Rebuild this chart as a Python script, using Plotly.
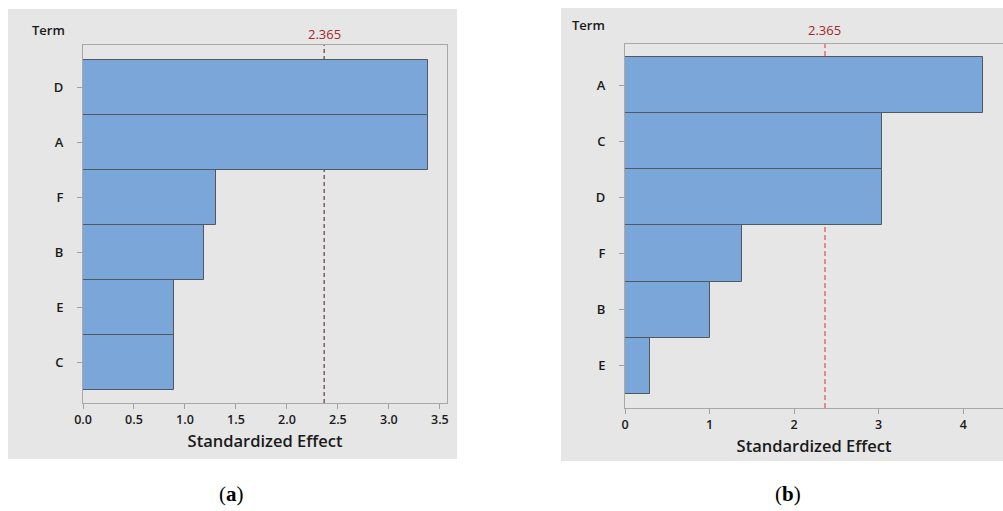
import plotly.graph_objects as go

# Pareto chart of standardized effects, two designs side by side
terms_a = ["C", "E", "B", "F", "A", "D"]
effects_a = [0.89, 0.89, 1.19, 1.30, 3.38, 3.38]

terms_b = ["E", "B", "F", "D", "C", "A"]
effects_b = [0.30, 1.00, 1.38, 3.04, 3.04, 4.23]

critical_value = 2.365
x_ticks_a = [0.0, 0.5, 1.0, 1.5, 2.0, 2.5, 3.0, 3.5]
x_ticks_b = [0, 1, 2, 3, 4]

W, H = 1003, 511
FONT = "Open Sans"
BAR_FILL = "#7BA6D9"
BAR_EDGE = "#505860"
PANEL_BG = "#e6e6e6"
TEXT = "#1a1a1a"


def px_x(p):
    return p / W


def px_y(p):
    return 1 - p / H


fig = go.Figure()

fig.add_trace(go.Bar(
    x=effects_a, y=terms_a, orientation="h", width=1.0,
    marker=dict(color=BAR_FILL, line=dict(color=BAR_EDGE, width=1)),
    xaxis="x", yaxis="y", showlegend=False, hoverinfo="x+y",
))
fig.add_trace(go.Bar(
    x=effects_b, y=terms_b, orientation="h", width=1.0,
    marker=dict(color=BAR_FILL, line=dict(color=BAR_EDGE, width=1)),
    xaxis="x2", yaxis="y2", showlegend=False, hoverinfo="x+y",
))

xaxis_common = dict(
    showgrid=False, zeroline=False, showline=True, linecolor="#a8a8a8",
    linewidth=1, mirror=True, ticks="outside", ticklen=5, tickcolor="#a0a0a0",
    tickfont=dict(family=FONT, size=12.5, color=TEXT, weight=600),
    title_font=dict(family=FONT, size=16.5, color=TEXT, weight=600),
    title_standoff=8, fixedrange=True, automargin=False,
)
yaxis_common = dict(
    showgrid=False, zeroline=False, showline=True, linecolor="#a8a8a8",
    linewidth=1, mirror=True, ticks="outside", ticklen=5, tickcolor="#a0a0a0",
    tickfont=dict(family=FONT, size=13, color=TEXT, weight=600),
    ticklabelstandoff=11, type="category", fixedrange=True, automargin=False,
)

fig.update_layout(
    template="none",
    width=W, height=H,
    margin=dict(l=0, r=0, t=0, b=0, pad=0, autoexpand=False),
    paper_bgcolor="white", plot_bgcolor="white",
    bargap=0,
    xaxis=dict(xaxis_common, domain=[px_x(83), px_x(447)], range=[0, 3.57],
               tickvals=x_ticks_a, ticktext=[f"{v:.1f}" for v in x_ticks_a],
               title_text="Standardized Effect", anchor="y"),
    yaxis=dict(yaxis_common, domain=[px_y(403), px_y(45)],
               categoryorder="array", categoryarray=terms_a,
               range=[-0.745, 5.764], anchor="x"),
    xaxis2=dict(xaxis_common, domain=[px_x(625), 1.0], range=[0, 4.47],
                tickvals=x_ticks_b, ticktext=[str(v) for v in x_ticks_b],
                title_text="Standardized Effect", anchor="y2"),
    yaxis2=dict(yaxis_common, domain=[px_y(408), px_y(44)],
                categoryorder="array", categoryarray=terms_b,
                range=[-0.75, 5.73], anchor="x2"),
)

shapes = [
    # grey panel backgrounds
    dict(type="rect", xref="paper", yref="paper", x0=px_x(8), x1=px_x(457),
         y0=px_y(459), y1=px_y(9), fillcolor=PANEL_BG, line=dict(width=0),
         layer="below"),
    dict(type="rect", xref="paper", yref="paper", x0=px_x(561), x1=1.0,
         y0=px_y(461), y1=px_y(8), fillcolor=PANEL_BG, line=dict(width=0),
         layer="below"),
    # critical-value reference lines
    dict(type="line", xref="x", yref="y domain", x0=critical_value,
         x1=critical_value, y0=0, y1=1, layer="below",
         line=dict(color="#4a1818", width=1, dash="4px,3px")),
    dict(type="line", xref="x2", yref="y2 domain", x0=critical_value,
         x1=critical_value, y0=0, y1=1, layer="below",
         line=dict(color="#e03030", width=1, dash="5px,3px")),
]
fig.update_layout(shapes=shapes)


def label(text, x, y, xref="paper", size=13, color=TEXT, family=FONT,
          weight=600):
    return dict(text=text, x=x, y=y, xref=xref, yref="paper",
                xanchor="center", yanchor="middle", showarrow=False,
                font=dict(family=family, size=size, color=color,
                          weight=weight))


annotations = [
    label("Term", px_x(48), px_y(30)),
    label("Term", px_x(588), px_y(25)),
    label(f"{critical_value}", critical_value, px_y(34), xref="x",
          color="#a3262a", weight=500),
    label(f"{critical_value}", critical_value, px_y(30), xref="x2",
          color="#a3262a", weight=500),
    label("(<b>a</b>)", px_x(231), px_y(494), size=21, color="black",
          family="Liberation Serif", weight="normal"),
    label("(<b>b</b>)", px_x(788), px_y(494), size=21, color="black",
          family="Liberation Serif", weight="normal"),
]
fig.update_layout(annotations=annotations)

fig.write_html("out.html")
